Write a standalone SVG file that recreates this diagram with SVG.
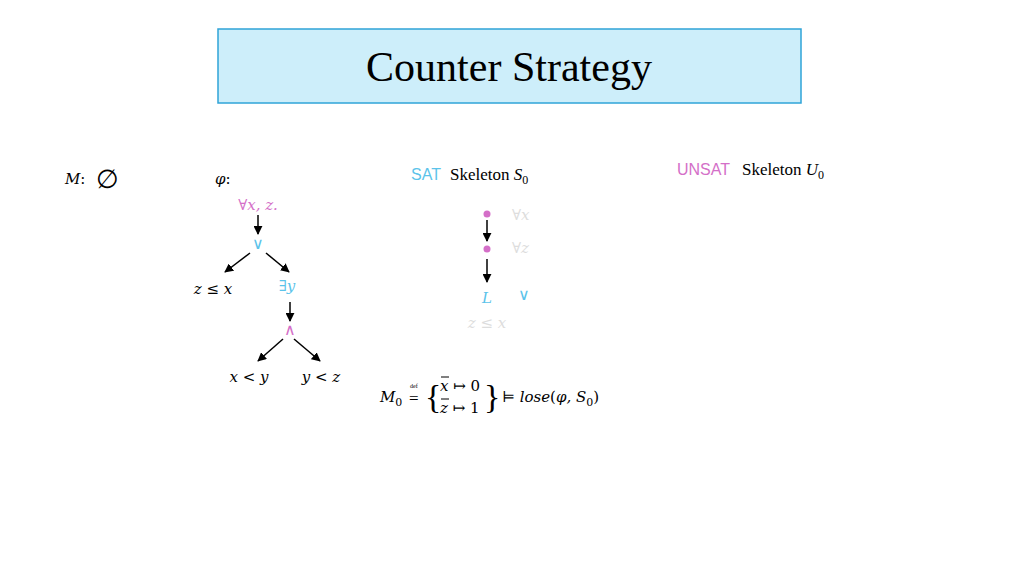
<svg xmlns="http://www.w3.org/2000/svg" width="1024" height="576" viewBox="0 0 1024 576">
<style>
.m{font-family:"DejaVu Serif",serif;font-style:italic;font-size:15px;fill:#000}
.t{font-family:"Liberation Serif",serif;font-size:17px;fill:#000}
.s{font-family:"Liberation Sans",sans-serif;font-size:16px}
.n{font-style:normal}
.pk{fill:#d46fc8}.bl{fill:#5bc3ea}.gr{fill:#ddd}
.e{stroke:#000;stroke-width:1.5;fill:none;marker-end:url(#a)}
</style>
<defs><marker id="a" viewBox="0 0 10 10" refX="9" refY="5" markerWidth="6" markerHeight="6" orient="auto"><path d="M0,0L10,5L0,10z" fill="#000"/></marker></defs>
<rect width="1024" height="576" fill="#fff"/>
<g id="title"><rect x="218" y="29" width="583" height="74" fill="#cdeefa" stroke="#2fa4d8" stroke-width="1.5"/>
<text x="509" y="81" text-anchor="middle" font-family="Liberation Serif,serif" font-size="42">Counter Strategy</text></g>
<g id="M"><text x="65" y="184" class="m">M<tspan class="n">:</tspan></text><text x="96" y="188" font-family="Liberation Sans,sans-serif" font-size="26">∅</text></g>
<g id="phi"><text x="215" y="184" class="m">φ<tspan class="n">:</tspan></text>
<text x="258" y="210" class="m pk" text-anchor="middle"><tspan class="n">∀</tspan>x, z.</text>
<text x="258" y="249" class="s bl" text-anchor="middle">∨</text>
<text x="213" y="294" class="m" text-anchor="middle">z <tspan class="n">≤</tspan> x</text>
<text x="287" y="291" class="m bl" text-anchor="middle"><tspan class="n">∃</tspan>y</text>
<text x="290" y="335" class="s pk" text-anchor="middle">∧</text>
<text x="249" y="382" class="m" text-anchor="middle">x <tspan class="n">&lt;</tspan> y</text>
<text x="321" y="382" class="m" text-anchor="middle">y <tspan class="n">&lt;</tspan> z</text></g>
<g id="skel"><text x="411" y="180" class="s bl">SAT</text><text x="450" y="180" class="t">Skeleton <tspan font-style="italic">S</tspan><tspan font-size="12" dy="4">0</tspan></text>
<circle cx="487" cy="214" r="3.5" fill="#d46fc8"/><circle cx="487" cy="249" r="3.5" fill="#d46fc8"/>
<text x="512" y="220" class="m gr"><tspan class="n">∀</tspan>x</text><text x="512" y="253" class="m gr"><tspan class="n">∀</tspan>z</text>
<text x="487" y="303" class="m bl" text-anchor="middle">L</text>
<text x="518" y="300" class="s bl">∨</text>
<text x="487" y="328" class="m gr" text-anchor="middle">z <tspan class="n">≤</tspan> x</text></g>
<g id="unsat"><text x="677" y="175" class="s pk">UNSAT</text><text x="742" y="175" class="t">Skeleton <tspan font-style="italic">U</tspan><tspan font-size="12" dy="4">0</tspan></text></g>
<g id="M0"><text x="380" y="402" class="m">M<tspan class="n" font-size="11" dy="4">0</tspan></text>
<text x="410" y="388" font-family="Liberation Serif,serif" font-size="6">def</text>
<text x="409" y="404" class="t">=</text>
<text x="425" y="408" font-family="Liberation Serif,serif" font-size="34">{</text>
<text x="440" y="391" class="m">x <tspan class="n">↦ 0</tspan></text>
<line x1="441" y1="377" x2="449" y2="377" stroke="#000"/>
<text x="440" y="413" class="m">z <tspan class="n">↦ 1</tspan></text>
<line x1="441" y1="399" x2="449" y2="399" stroke="#000"/>
<text x="484" y="408" font-family="Liberation Serif,serif" font-size="34">}</text>
<text x="502" y="402" class="m"><tspan class="n">⊨</tspan> lose<tspan class="n">(</tspan>φ, S<tspan class="n" font-size="11" dy="4">0</tspan><tspan class="n" dy="-4">)</tspan></text></g>
<g id="connectors">
<path class="e" d="M258,215V234"/>
<path class="e" d="M250,253L225,272"/>
<path class="e" d="M266,253L289,272"/>
<path class="e" d="M290,302V321"/>
<path class="e" d="M283,339L258,361"/>
<path class="e" d="M294,339L320,361"/>
<path class="e" d="M487,220V241"/>
<path class="e" d="M487,259V282"/>
</g>
</svg>
